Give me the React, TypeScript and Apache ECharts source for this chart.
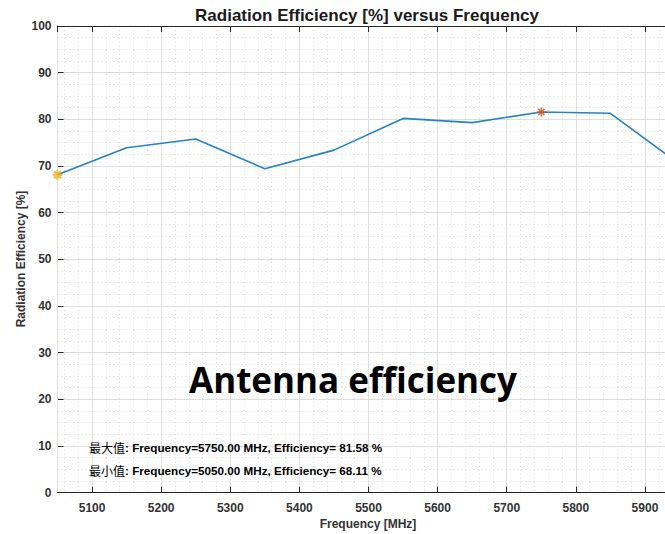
import React, { useEffect, useRef } from "react";
import * as echarts from "echarts";

const frequencies = [5050, 5150, 5250, 5350, 5450, 5550, 5650, 5750, 5850, 5950];
const efficiencies = [68.11, 73.9, 75.8, 69.4, 73.4, 80.2, 79.3, 81.58, 81.3, 70.4];
const xRange = [5050, 5929];
const yRange = [0, 100];
const chartTitle = "Radiation Efficiency [%] versus Frequency";
const xName = "Frequency [MHz]";
const yName = "Radiation Efficiency [%]";
const overlayText = "Antenna efficiency";

const asterisk =
  "path://M5,0L5,10M0,5L10,5M1.5,1.5L8.5,8.5M1.5,8.5L8.5,1.5";

export default function App() {
  const ref = useRef<HTMLDivElement>(null);
  useEffect(() => {
    if (!ref.current) return;
    const chart = echarts.init(ref.current, null, { renderer: "svg" });
    let maxI = 0;
    let minI = 0;
    efficiencies.forEach((v, i) => {
      if (v > efficiencies[maxI]) maxI = i;
      if (v < efficiencies[minI]) minI = i;
    });
    const fmt = (label: string, i: number) =>
      `{c|${label}}{b|: Frequency=${frequencies[i].toFixed(2)} MHz, Efficiency= ${efficiencies[i].toFixed(2)} %}`;
    const dark = "#262626";
    const labelStyle = {
      color: "#333",
      fontFamily: "Liberation Sans",
      fontWeight: "bold" as const,
      fontSize: 12,
    };
    const rich = {
      c: { fontFamily: "Noto Sans CJK SC", fontSize: 12, color: dark, fontWeight: "normal" },
      b: { fontFamily: "Liberation Sans", fontSize: 11.7, color: dark, fontWeight: "bold" },
    };
    chart.setOption({
      animation: false,
      backgroundColor: "#fff",
      grid: { left: 57.5, top: 26, right: 0, bottom: 41.3, containLabel: false },
      xAxis: [
        {
          type: "value",
          position: "bottom",
          min: xRange[0],
          max: xRange[1],
          splitNumber: 9,
          axisLine: { lineStyle: { color: dark, width: 1 } },
          axisTick: { inside: true, length: 6, lineStyle: { color: dark } },
          axisLabel: {
            ...labelStyle,
            margin: 9,
            showMinLabel: false,
            showMaxLabel: false,
            formatter: (v: number) => String(v),
          },
          splitLine: { show: true, lineStyle: { color: "#dedede", width: 1 } },
          z: 3,
        },
        {
          type: "value",
          position: "top",
          min: xRange[0],
          max: xRange[1],
          splitNumber: 9,
          axisLine: { lineStyle: { color: dark, width: 1 } },
          axisTick: { inside: true, length: 6, lineStyle: { color: dark } },
          axisLabel: { show: false },
          splitLine: { show: false },
          z: 3,
        },
        {
          type: "value",
          position: "bottom",
          min: xRange[0],
          max: xRange[1],
          splitNumber: 45,
          axisLine: { show: false },
          axisTick: { show: false },
          axisLabel: { show: false },
          splitLine: { show: true, lineStyle: { color: "#d9d9d9", width: 1, type: [1, 3] } },
          z: 1,
        },
      ],
      yAxis: [
        {
          type: "value",
          min: yRange[0],
          max: yRange[1],
          interval: 10,
          axisLine: { show: true, lineStyle: { color: dark, width: 1 } },
          axisTick: { show: true, inside: true, length: 6, lineStyle: { color: dark } },
          axisLabel: { ...labelStyle, margin: 6 },
          splitLine: { show: true, lineStyle: { color: "#dedede", width: 1 } },
          minorTick: { show: false, splitNumber: 4 },
          minorSplitLine: { show: true, lineStyle: { color: "#d9d9d9", width: 1, type: [1, 3] } },
        },
      ],
      series: [
        {
          type: "line",
          data: frequencies.map((f, i) => [f, efficiencies[i]]),
          showSymbol: false,
          symbol: "none",
          clip: true,
          lineStyle: { color: "#2383c9", width: 1.6 },
          z: 5,
        },
        {
          type: "scatter",
          data: [[frequencies[minI], efficiencies[minI]]],
          symbol: asterisk,
          symbolSize: 10,
          itemStyle: { color: "#EDB120", borderColor: "#EDB120", borderWidth: 2.2 },
          z: 6,
        },
        {
          type: "scatter",
          data: [[frequencies[maxI], efficiencies[maxI]]],
          symbol: asterisk,
          symbolSize: 9,
          itemStyle: { color: "#D95319", borderColor: "#D95319", borderWidth: 1.6 },
          z: 6,
        },
      ],
      graphic: [
        {
          type: "text",
          x: 367,
          y: 15,
          style: {
            text: chartTitle,
            fontFamily: "Liberation Sans",
            fontWeight: "bold",
            fontSize: 17,
            fill: "#1a1a1a",
            align: "center",
            verticalAlign: "middle",
          },
        },
        {
          type: "text",
          x: 368,
          y: 524,
          style: {
            text: xName,
            fontFamily: "Liberation Sans",
            fontWeight: "bold",
            fontSize: 12,
            fill: "#333",
            align: "center",
            verticalAlign: "middle",
          },
        },
        {
          type: "text",
          x: 21,
          y: 259,
          rotation: Math.PI / 2,
          style: {
            text: yName,
            fontFamily: "Liberation Sans",
            fontWeight: "bold",
            fontSize: 12,
            fill: "#333",
            align: "center",
            verticalAlign: "middle",
          },
        },
        {
          type: "text",
          x: 89,
          y: 447,
          z: 10,
          style: { text: fmt("最大值", maxI), rich, verticalAlign: "middle", align: "left" },
        },
        {
          type: "text",
          x: 89,
          y: 470,
          z: 10,
          style: { text: fmt("最小值", minI), rich, verticalAlign: "middle", align: "left" },
        },
        {
          type: "text",
          x: 353,
          y: 379,
          z: 10,
          style: {
            text: overlayText,
            fontFamily: "Open Sans",
            fontWeight: "bold",
            fontSize: 35,
            fill: "#000",
            align: "center",
            verticalAlign: "middle",
          },
        },
      ],
    });
    return () => chart.dispose();
  }, []);
  return (
    <div
      ref={ref}
      style={{ position: "fixed", left: 0, top: 0, width: 665, height: 534 }}
    />
  );
}
